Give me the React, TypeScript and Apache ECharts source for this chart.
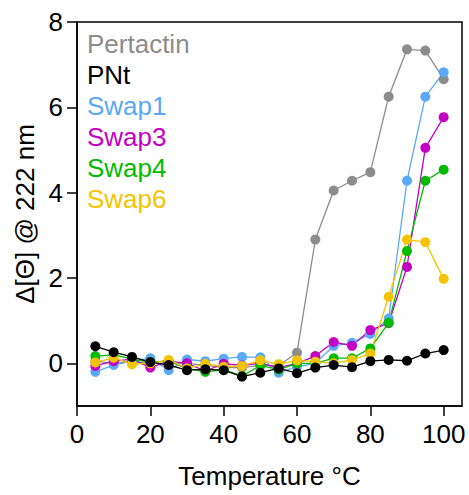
import React, { useEffect, useRef } from "react";
import * as echarts from "echarts";

const temps = [5, 10, 15, 20, 25, 30, 35, 40, 45, 50, 55, 60, 65, 70, 75, 80, 85, 90, 95, 100];
const pertactin = [0.05, 0.0, 0.05, 0.0, 0.0, 0.0, -0.05, -0.1, -0.1, -0.05, -0.05, 0.25, 2.9, 4.05, 4.28, 4.48, 6.25, 7.36, 7.33, 6.66];
const pnt = [0.4, 0.26, 0.15, 0.03, -0.04, -0.16, -0.14, -0.16, -0.31, -0.22, -0.12, -0.23, -0.1, -0.04, -0.09, 0.05, 0.08, 0.06, 0.23, 0.31];
const swap1 = [-0.2, -0.04, 0.05, 0.12, -0.16, 0.09, 0.05, 0.11, 0.15, 0.14, -0.22, -0.08, 0.0, 0.41, 0.48, 0.69, 1.05, 4.28, 6.25, 6.82];
const swap3 = [-0.06, 0.05, 0.1, -0.1, 0.05, 0.0, -0.18, -0.01, -0.05, 0.0, -0.1, 0.0, 0.17, 0.5, 0.41, 0.78, 0.94, 2.26, 5.05, 5.77];
const swap4 = [0.17, 0.2, 0.1, 0.03, 0.05, -0.12, -0.2, -0.15, -0.3, -0.05, -0.15, 0.0, 0.0, 0.12, 0.12, 0.35, 0.95, 2.63, 4.28, 4.54];
const swap6 = [0.02, 0.13, -0.02, 0.0, 0.08, -0.12, -0.01, -0.08, -0.06, 0.07, -0.02, 0.07, 0.04, 0.0, 0.08, 0.23, 1.56, 2.9, 2.84, 1.98];

const xTicks = [0, 20, 40, 60, 80, 100];
const yTicks = [0, 2, 4, 6, 8];

const seriesDefs = [
  { name: "Pertactin", data: pertactin, color: "#8c8c8c" },
  { name: "Swap1", data: swap1, color: "#5aa8f8" },
  { name: "Swap3", data: swap3, color: "#c400c4" },
  { name: "Swap4", data: swap4, color: "#00bb00" },
  { name: "Swap6", data: swap6, color: "#f5c400" },
  { name: "PNt", data: pnt, color: "#000000" },
];
const legendOrder = ["Pertactin", "PNt", "Swap1", "Swap3", "Swap4", "Swap6"];

export default function App() {
  const ref = useRef<HTMLDivElement>(null);
  useEffect(() => {
    if (!ref.current) return;
    const chart = echarts.init(ref.current, null, { renderer: "svg" });
    const font = "'Liberation Sans', Arial, sans-serif";
    const colorOf = (n: string) => seriesDefs.find((s) => s.name === n)!.color;
    chart.setOption({
      animation: false,
      textStyle: { fontFamily: font },
      grid: {
        left: 77,
        right: 7,
        top: 22,
        bottom: 89,
        show: true,
        borderColor: "#000",
        borderWidth: 1.5,
        backgroundColor: "transparent",
      },
      legend: {
        orient: "vertical",
        left: 77,
        top: 26,
        itemWidth: 0,
        itemHeight: 0,
        itemGap: 5,
        icon: "none",
        selectedMode: false,
        data: legendOrder.map((n) => ({ name: n, textStyle: { color: colorOf(n) } })),
        textStyle: { fontSize: 26, fontFamily: font },
      },
      xAxis: {
        type: "value",
        min: 0,
        max: 105,
        name: "Temperature °C",
        nameLocation: "middle",
        nameGap: 57,
        nameTextStyle: { fontSize: 26, color: "#000", fontFamily: font },
        axisLine: { show: true, onZero: false, lineStyle: { color: "#000", width: 1.5 } },
        axisTick: { show: true, length: 10, lineStyle: { color: "#000", width: 1.5 }, customValues: xTicks },
        axisLabel: { fontSize: 26, color: "#000", margin: 15, customValues: xTicks },
        splitLine: { show: false },
      },
      yAxis: {
        type: "value",
        min: -1,
        max: 8,
        name: "Δ[Θ] @ 222 nm",
        nameLocation: "middle",
        nameGap: 39,
        nameTextStyle: { fontSize: 26, color: "#000", fontFamily: font },
        axisLine: { show: true, onZero: false, lineStyle: { color: "#000", width: 1.5 } },
        axisTick: { show: true, length: 10, lineStyle: { color: "#000", width: 1.5 }, customValues: yTicks },
        axisLabel: { fontSize: 26, color: "#000", margin: 14, customValues: yTicks },
        splitLine: { show: false },
      },
      series: seriesDefs.map((s) => ({
        name: s.name,
        type: "line",
        data: temps.map((t, i) => [t, s.data[i]]),
        symbol: "circle",
        symbolSize: 10,
        itemStyle: { color: s.color },
        lineStyle: { color: s.color, width: 1.3 },
        emphasis: { disabled: true },
      })),
    });
    return () => chart.dispose();
  }, []);
  return <div ref={ref} style={{ width: 469, height: 495, position: "absolute", left: 0, top: 0 }} />;
}
